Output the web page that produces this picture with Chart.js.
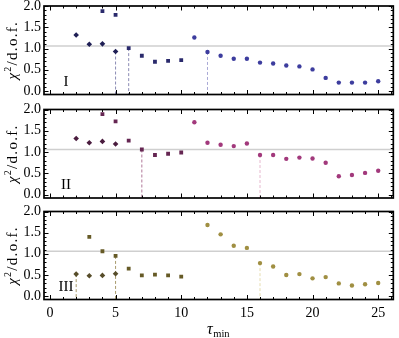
<!DOCTYPE html>
<html><head><meta charset="utf-8">
<script src="https://cdn.jsdelivr.net/npm/chart.js@4.4.1/dist/chart.umd.min.js"></script>
<style>
html,body{margin:0;padding:0;background:#fff;}
#wrap{position:relative;width:399px;height:338px;overflow:hidden;}
canvas{position:absolute;left:0;top:0;}
</style>
</head><body>
<div id="wrap">
<canvas id="c1" width="399" height="338"></canvas>
<canvas id="c2" width="399" height="338"></canvas>
<canvas id="c3" width="399" height="338"></canvas>
</div>
<script>
// ---- data ----
const X_TICKS = [0, 5, 10, 15, 20, 25];
const Y_TICKS = [0, 0.5, 1.0, 1.5, 2.0];
const REF = 1.06;

const DIA_X = [2, 3, 4, 5];
const DIA_I = [1.32, 1.10, 1.11, 0.93];
const DIA_II = [1.32, 1.22, 1.25, 1.19];
const DIA_III = [0.52, 0.48, 0.49, 0.53];

const SQ_X_I = [4, 5, 6, 7, 8, 9, 10];
const SQ_I = [1.88, 1.79, 1.01, 0.83, 0.69, 0.71, 0.73];
const SQ_X_II = [4, 5, 6, 7, 8, 9, 10];
const SQ_II = [1.89, 1.72, 1.27, 1.06, 0.93, 0.96, 0.99];
const SQ_X_III = [3, 4, 5, 6, 7, 8, 9, 10];
const SQ_III = [1.40, 1.06, 0.95, 0.65, 0.49, 0.51, 0.49, 0.46];

const CI_X_I = [11, 12, 13, 14, 15, 16, 17, 18, 19, 20, 21, 22, 23, 24, 25];
const CI_I = [1.26, 0.92, 0.83, 0.76, 0.76, 0.67, 0.65, 0.60, 0.58, 0.51, 0.31, 0.20, 0.20, 0.20, 0.23];
const CI_X_II = [11, 12, 13, 14, 15, 16, 17, 18, 19, 20, 21, 22, 23, 24, 25];
const CI_II = [1.70, 1.22, 1.17, 1.14, 1.20, 0.93, 0.93, 0.84, 0.87, 0.85, 0.75, 0.43, 0.46, 0.51, 0.56];
const CI_X_III = [12, 13, 14, 15, 16, 17, 18, 19, 20, 21, 22, 23, 24, 25];
const CI_III = [1.68, 1.46, 1.19, 1.14, 0.78, 0.70, 0.50, 0.52, 0.42, 0.45, 0.30, 0.25, 0.28, 0.31];

// x positions of the dashed drop lines (per series)
const DROP_DIA_I = [5],  DROP_SQ_I = [6],  DROP_CI_I = [12];
const DROP_DIA_II = [],  DROP_SQ_II = [7], DROP_CI_II = [16];
const DROP_DIA_III = [2], DROP_SQ_III = [5], DROP_CI_III = [16];

const X_MIN = -0.45, X_MAX = 26.15, Y_MIN = -0.08, Y_MAX = 2.0;

// ---- styling ----
const SERIF = '"Liberation Serif", "DejaVu Serif", serif';

const PANELS = [
  { id: 'c1', label: 'I', top: 6, bottom: 94.5, showX: false,
    dia: [DIA_X, DIA_I], sq: [SQ_X_I, SQ_I], ci: [CI_X_I, CI_I],
    drops: [DROP_DIA_I, DROP_SQ_I, DROP_CI_I],
    colors: { dia: '#1f1f55', sq: '#2a2a6c', ci: '#3d3d9e', dDark: '#8a8ab4', dLight: '#a9a9d6' } },
  { id: 'c2', label: 'II', top: 109.5, bottom: 198, showX: false,
    dia: [DIA_X, DIA_II], sq: [SQ_X_II, SQ_II], ci: [CI_X_II, CI_II],
    drops: [DROP_DIA_II, DROP_SQ_II, DROP_CI_II],
    colors: { dia: '#4a1c3e', sq: '#652652', ci: '#a2397c', dDark: '#b07898', dLight: '#e6b8cf' } },
  { id: 'c3', label: 'III', top: 211.5, bottom: 299.5, showX: true,
    dia: [DIA_X, DIA_III], sq: [SQ_X_III, SQ_III], ci: [CI_X_III, CI_III],
    drops: [DROP_DIA_III, DROP_SQ_III, DROP_CI_III],
    colors: { dia: '#574d2a', sq: '#665a26', ci: '#a08f42', dDark: '#a89a6c', dLight: '#e6ddb0' } }
];

function pts(xs, ys) { return xs.map((x, i) => ({ x: x, y: ys[i] })); }

function dropSets(xsArr, ysArr, dropXs, color) {
  return dropXs.map(dx => {
    const v = ysArr[xsArr.indexOf(dx)];
    return { type: 'line', data: [{ x: dx, y: v }, { x: dx, y: Y_MIN }],
      borderColor: color, borderWidth: 1, borderDash: [3, 2], pointRadius: 0,
      showLine: true, order: 5, fill: false };
  });
}

const framePlugin = {
  id: 'frame',
  afterDraw(chart) {
    const ctx = chart.ctx, a = chart.chartArea;
    const xs = chart.scales.x, ys = chart.scales.y;
    ctx.save();
    ctx.strokeStyle = '#000';
    ctx.lineWidth = 1;
    ctx.beginPath();
    for (let i = 0; i <= 26; i++) {
      const px = Math.round(xs.getPixelForValue(i)) + 0.5;
      const len = i % 5 === 0 ? 4.5 : 2.5;
      ctx.moveTo(px, a.bottom); ctx.lineTo(px, a.bottom - len);
      ctx.moveTo(px, a.top); ctx.lineTo(px, a.top + len);
    }
    for (let k = 0; k <= 20; k++) {
      const py = Math.round(ys.getPixelForValue(k / 10)) + 0.5;
      const len = k % 5 === 0 ? 4.5 : 2.5;
      ctx.moveTo(a.left, py); ctx.lineTo(a.left + len, py);
      ctx.moveTo(a.right, py); ctx.lineTo(a.right - len, py);
    }
    ctx.stroke();
    ctx.lineWidth = 1.7;
    ctx.strokeRect(a.left, a.top, a.right - a.left, a.bottom - a.top);

    // y title  χ²/d.o.f.
    const cy = (a.top + a.bottom) / 2;
    ctx.translate(17, cy);
    ctx.rotate(-Math.PI / 2);
    ctx.fillStyle = '#000';
    ctx.textBaseline = 'alphabetic';
    const parts = [
      { t: 'χ', f: 'italic 15px ' + SERIF, dy: 0 },
      { t: '2', f: '10px ' + SERIF, dy: -6 },
      { t: '/d.o.f.', f: '15px ' + SERIF, dy: 0 }
    ];
    const sp = 1.3;
    let total = 0;
    parts.forEach(p => { ctx.font = p.f; for (const ch of p.t) total += ctx.measureText(ch).width + sp; });
    let x = -total / 2;
    parts.forEach(p => {
      ctx.font = p.f;
      for (const ch of p.t) { ctx.fillText(ch, x, p.dy); x += ctx.measureText(ch).width + sp; }
    });
    ctx.restore();

    // panel label
    ctx.save();
    ctx.fillStyle = '#000';
    ctx.font = '15px ' + SERIF;
    ctx.textAlign = 'center';
    ctx.textBaseline = 'alphabetic';
    ctx.fillText(chart.options.panelLabel, a.left + 22, a.bottom - 9);
    ctx.restore();

    if (chart.options.drawXTitle) {
      ctx.save();
      ctx.fillStyle = '#000';
      ctx.textBaseline = 'alphabetic';
      ctx.font = 'italic 16px ' + SERIF;
      ctx.fillText('τ', 207, 334);
      const w = ctx.measureText('τ').width;
      ctx.font = '10.5px ' + SERIF;
      ctx.fillText('min', 207 + w + 0.5, 336.5);
      ctx.restore();
    }
  }
};

PANELS.forEach(p => {
  const c = p.colors;
  const datasets = [
    { data: pts(p.dia[0], p.dia[1]), pointStyle: 'rectRot', pointRadius: 2.8, backgroundColor: c.dia, borderColor: c.dia, borderWidth: 0, order: 0 },
    { data: pts(p.sq[0], p.sq[1]), pointStyle: 'rect', pointRadius: 2.7, backgroundColor: c.sq, borderColor: c.sq, borderWidth: 0, order: 0 },
    { data: pts(p.ci[0], p.ci[1]), pointStyle: 'circle', pointRadius: 2.2, backgroundColor: c.ci, borderColor: c.ci, borderWidth: 0, order: 0 },
    ...dropSets(p.dia[0], p.dia[1], p.drops[0], c.dDark),
    ...dropSets(p.sq[0], p.sq[1], p.drops[1], c.dDark),
    ...dropSets(p.ci[0], p.ci[1], p.drops[2], c.dLight),
    { type: 'line', data: [{ x: X_MIN, y: REF }, { x: X_MAX, y: REF }], borderColor: '#cfcfcf', borderWidth: 1.5, pointRadius: 0, showLine: true, order: 9, fill: false }
  ];
  const xh = p.showX ? 20 : 0;
  new Chart(document.getElementById(p.id), {
    type: 'scatter',
    data: { datasets },
    options: {
      responsive: false, animation: false, events: [],
      panelLabel: p.label, drawXTitle: p.showX,
      layout: { padding: { top: p.top, bottom: 338 - p.bottom - xh, left: 0, right: 5.7 } },
      plugins: { legend: { display: false }, tooltip: { enabled: false } },
      scales: {
        x: {
          type: 'linear', min: X_MIN, max: X_MAX, display: p.showX,
          grid: { display: false, drawTicks: false }, border: { display: false },
          ticks: { color: '#000', font: { family: SERIF, size: 14 }, padding: 5, maxRotation: 0, autoSkip: false, callback: v => String(v) },
          afterBuildTicks: s => { s.ticks = X_TICKS.map(v => ({ value: v })); },
          afterFit: s => { s.height = xh; s.paddingLeft = 0; s.paddingRight = 0; }
        },
        y: {
          type: 'linear', min: Y_MIN, max: Y_MAX,
          grid: { display: false, drawTicks: false }, border: { display: false },
          ticks: { color: '#000', font: { family: SERIF, size: 14 }, padding: 3, autoSkip: false, callback: v => v.toFixed(1) },
          afterBuildTicks: s => { s.ticks = Y_TICKS.map(v => ({ value: v })); },
          afterFit: s => { s.width = 44; s.paddingTop = 0; s.paddingBottom = 0; }
        }
      }
    },
    plugins: [framePlugin]
  });
});
</script>
</body></html>
